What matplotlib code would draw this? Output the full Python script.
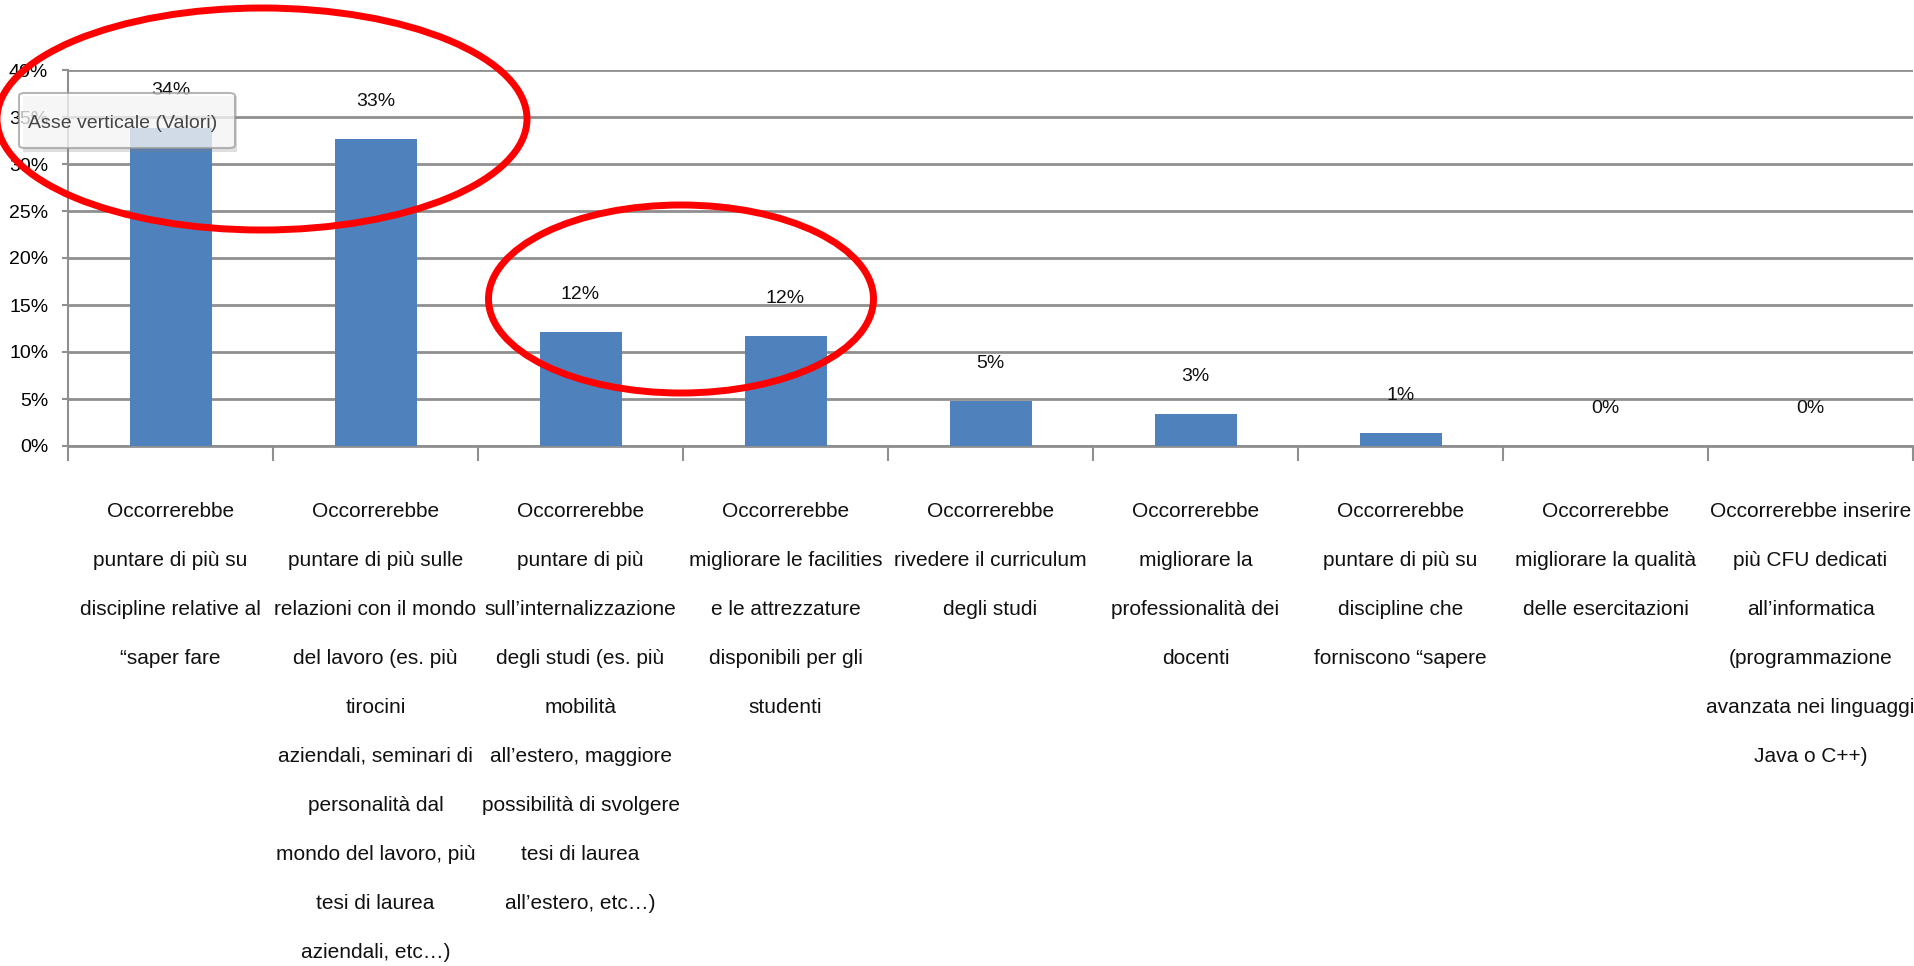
import numpy as np
import matplotlib
matplotlib.use('Agg')
import matplotlib.pyplot as plt
from matplotlib import font_manager
from matplotlib.patches import Ellipse, FancyBboxPatch, Rectangle
from matplotlib.transforms import blended_transform_factory

# data
categories = [
    'Occorrerebbe\npuntare di più su\ndiscipline relative al\n“saper fare',
    'Occorrerebbe\npuntare di più sulle\nrelazioni con il mondo\ndel lavoro (es. più\ntirocini\n'
    'aziendali, seminari di\npersonalità dal\nmondo del lavoro, più\ntesi di laurea\naziendali, etc…)',
    'Occorrerebbe\npuntare di più\nsull’internalizzazione\ndegli studi (es. più\nmobilità\n'
    'all’estero, maggiore\npossibilità di svolgere\ntesi di laurea\nall’estero, etc…)',
    'Occorrerebbe\nmigliorare le facilities\ne le attrezzature\ndisponibili per gli\nstudenti',
    'Occorrerebbe\nrivedere il curriculum\ndegli studi',
    'Occorrerebbe\nmigliorare la\nprofessionalità dei\ndocenti',
    'Occorrerebbe\npuntare di più su\ndiscipline che\nforniscono “sapere',
    'Occorrerebbe\nmigliorare la qualità\ndelle esercitazioni',
    'Occorrerebbe inserire\npiù CFU dedicati\nall’informatica\n(programmazione\navanzata nei linguaggi\nJava o C++)',
]
values = [33.8, 32.7, 12.1, 11.7, 4.8, 3.4, 1.4, 0.0, 0.0]
yticks = [0, 5, 10, 15, 20, 25, 30, 35, 40]
tooltip = 'Asse verticale (Valori)'

installed = {f.name for f in font_manager.fontManager.ttflist}
if 'Liberation Sans Narrow' in installed:
    plt.rcParams['font.family'] = ['Liberation Sans Narrow', 'DejaVu Sans']
    FS, FS_CAT = 17.5, 18.5
else:
    plt.rcParams['font.family'] = ['Liberation Sans', 'DejaVu Sans']
    FS, FS_CAT = 14, 15

W, H = 1915, 966
GRID = '#8f8f8f'
fig = plt.figure(figsize=(W / 100, H / 100), dpi=100)
ax = fig.add_axes([68 / W, 1 - 446 / H, (1913 - 68) / W, (446 - 70) / H])


def fx(px):
    return px / W


def fy(py):
    return 1 - py / H


x = np.arange(len(categories))
ax.bar(x, values, width=0.4, color='#4f81bd', zorder=3)
for xi, v in zip(x, values):
    ax.annotate(f'{v:.0f}%', (xi, v), xytext=(0, 27), textcoords='offset points',
                ha='center', va='center', fontsize=FS, color='#111111', zorder=4)

ax.set_xlim(-0.5, len(categories) - 0.5)
ax.set_ylim(0, 40)
ax.set_yticks(yticks)
ax.set_yticklabels([f'{t}%' for t in yticks])
ax.yaxis.grid(True, color=GRID, lw=2)
ax.set_axisbelow(True)

# category labels under each bar
ax.set_xticks([])
ax.set_xticks(np.arange(-0.5, len(categories)), minor=True)
ax.tick_params(axis='x', which='minor', length=11, width=1.5, color=GRID)
ax.tick_params(axis='y', length=4.3, width=1.5, color=GRID, pad=10, labelsize=FS)
trans = blended_transform_factory(ax.transData, fig.transFigure)
for xi, lab in zip(x, categories):
    ax.text(xi, fy(502), lab, transform=trans, ha='center', va='top',
            fontsize=FS_CAT, linespacing=3.0, color='#111111', clip_on=False)

for s in ['top', 'right']:
    ax.spines[s].set_visible(False)
ax.spines['left'].set_color(GRID)
ax.spines['left'].set_linewidth(1.5)
ax.spines['bottom'].set_color(GRID)
ax.spines['bottom'].set_linewidth(2)

# tooltip box
fig.add_artist(Rectangle((fx(23), fy(152)), fx(214), 56 / H, transform=fig.transFigure,
                         facecolor='#808080', alpha=0.25, edgecolor='none', zorder=2))
fig.add_artist(FancyBboxPatch((fx(19), fy(148)), fx(216), 55 / H, transform=fig.transFigure,
                              boxstyle='round,pad=0,rounding_size=0.003',
                              facecolor='white', alpha=0.72, edgecolor='#9a9a9a', lw=1.5, zorder=2))
fig.text(fx(28), fy(123), tooltip, ha='left', va='center', fontsize=FS,
         color='#444444', zorder=3)

# red ellipses
for cx, cy, w, h in [(262, 119, 530, 222), (681, 299, 385, 188)]:
    fig.add_artist(Ellipse((fx(cx), fy(cy)), w / W, h / H, transform=fig.transFigure,
                           fill=False, edgecolor='#ff0000', lw=5, zorder=4))

fig.savefig('out.png', dpi=100)
